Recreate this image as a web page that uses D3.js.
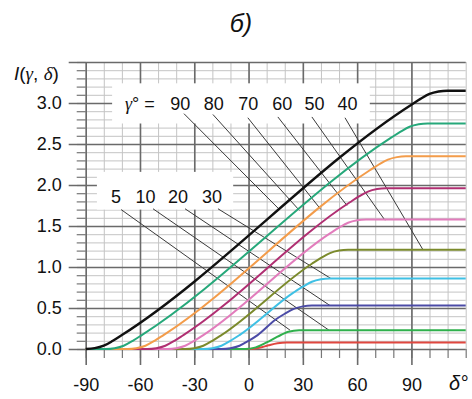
<!DOCTYPE html>
<html>
<head>
<meta charset="utf-8">
<script src="https://cdn.jsdelivr.net/npm/d3@7"></script>
<style>
  html, body { margin: 0; padding: 0; background: #fff; }
  svg { display: block; }
  text { font-family: "Liberation Sans", Arial, sans-serif; fill: #111; }
</style>
</head>
<body>
<svg id="chart" width="472" height="399"></svg>
<script>
// Insolation curves I(γ, δ) for several γ; each curve is a list of [δ°, I] points.
const gammas = [90, 80, 70, 60, 50, 40, 30, 20, 10, 5];
const curveColors = ["#111111", "#26a87a", "#f39c4a", "#b02f72", "#e27cbc",
                     "#7b8a2c", "#3fc0e4", "#4b4ba6", "#2fb04c", "#e0473f"];

const g90 = [[-90,0],[-85,0.01],[-80,0.04],[-75,0.10],[-70,0.17],[90,2.98],[95,3.05],[100,3.11],[105,3.14],[110,3.15],[120,3.15]];
const g80 = [[-90,0],[-79,0],[-74,0.01],[-69,0.04],[-64,0.10],[-59,0.17],[79,2.58],[84,2.65],[89,2.71],[94,2.74],[99,2.75],[120,2.75]];
const g70 = [[-90,0],[-67,0],[-62,0.01],[-57,0.04],[-52,0.10],[-47,0.17],[67,2.18],[72,2.25],[77,2.31],[82,2.34],[87,2.35],[120,2.35]];
const g60 = [[-90,0],[-56,0],[-51,0.01],[-46,0.04],[-41,0.10],[-36,0.17],[56,1.79],[61,1.86],[66,1.92],[71,1.95],[76,1.96],[120,1.96]];
const g50 = [[-90,0],[-45,0],[-40,0.01],[-35,0.04],[-30,0.10],[-25,0.17],[45,1.41],[50,1.48],[55,1.54],[60,1.57],[65,1.58],[120,1.58]];
const g40 = [[-90,0],[-35,0],[-30,0.01],[-25,0.04],[-20,0.10],[-15,0.17],[35,1.04],[40,1.11],[45,1.17],[50,1.20],[55,1.21],[120,1.21]];
const g30 = [[-90,0],[-25,0],[-20,0.01],[-15,0.04],[-10,0.10],[-5,0.17],[25,0.69],[30,0.76],[35,0.82],[40,0.85],[45,0.86],[120,0.86]];
const g20 = [[-90,0],[-15,0],[-10,0.01],[-5,0.04],[0,0.10],[5,0.17],[15,0.36],[20,0.43],[25,0.49],[30,0.52],[35,0.53],[120,0.53]];
const g10 = [[-90,0],[-2,0],[4,0.02],[10,0.08],[16,0.15],[22,0.21],[28,0.23],[120,0.23]];
const g5  = [[-90,0],[0,0],[6,0.015],[11,0.045],[16,0.07],[21,0.08],[120,0.08]];
const curves = [g90, g80, g70, g60, g50, g40, g30, g20, g10, g5];

// Axis ticks
const deltaTicks = [-90, -60, -30, 0, 30, 60, 90];
const deltaMinor = d3.range(-90, 121, 10);
const iTicks = [0, 0.5, 1.0, 1.5, 2.0, 2.5, 3.0];
const iMajor = [0, 0.5, 1.0, 1.5, 2.0, 2.5, 3.0, 3.5];
const iMinor = d3.range(0, 36).map(k => k / 10);

// Curve labels with their leader lines: [δ, I] start and end points
const upperLabels = ["90", "80", "70", "60", "50", "40"];
const upperLabelDelta = [-37.7, -19.2, -0.2, 18.6, 36.5, 54.7];
const upperLeaderFrom = [[-35.7,2.87],[-19.7,2.86],[-0.4,2.82],[16.2,2.83],[35.0,2.83],[53.3,2.82]];
const upperLeaderTo   = [[17.1,1.70],[28.1,1.69],[40.0,1.70],[54.4,1.75],[75.4,1.57],[96.4,1.21]];
const lowerLabels = ["5", "10", "20", "30"];
const lowerLabelDelta = [-73.3, -57.0, -39.0, -20.2];
const lowerLeaderFrom = [[-70.4,1.70],[-52.8,1.71],[-35.1,1.71],[-16.9,1.71]];
const lowerLeaderTo   = [[22.9,0.23],[44.4,0.23],[45.0,0.53],[45.5,0.86]];

const svg = d3.select("#chart");
const x = d3.scaleLinear().domain([-90, 120]).range([85.7, 465.7]);
const y = d3.scaleLinear().domain([0, 3.5]).range([349, 62]);

const plot = svg.append("g");

// minor grid
plot.append("g")
  .attr("transform", `translate(0,${y(0)})`)
  .call(d3.axisBottom(x).tickValues(deltaMinor).tickSize(-(y(0) - y(3.5))).tickFormat(""))
  .call(g => g.select(".domain").remove())
  .call(g => g.selectAll("line").attr("stroke", "#c4c4c4").attr("stroke-width", 1));
plot.append("g")
  .attr("transform", `translate(${x(-90)},0)`)
  .call(d3.axisLeft(y).tickValues(iMinor).tickSize(-(x(120) - x(-90))).tickFormat(""))
  .call(g => g.select(".domain").remove())
  .call(g => g.selectAll("line").attr("stroke", "#c4c4c4").attr("stroke-width", 1));

// minor ticks outside the frame
plot.append("g")
  .attr("transform", `translate(0,${y(0)})`)
  .call(d3.axisBottom(x).tickValues(deltaMinor).tickSize(9).tickFormat(""))
  .call(g => g.select(".domain").remove())
  .call(g => g.selectAll("line").attr("stroke", "#777").attr("stroke-width", 1.2));
plot.append("g")
  .attr("transform", `translate(${x(-90)},0)`)
  .call(d3.axisLeft(y).tickValues(iMinor).tickSize(9).tickFormat(""))
  .call(g => g.select(".domain").remove())
  .call(g => g.selectAll("line").attr("stroke", "#777").attr("stroke-width", 1.2));

// major grid with extended ticks
plot.append("g")
  .attr("transform", `translate(0,${y(0)})`)
  .call(d3.axisBottom(x).tickValues(deltaTicks).tickSize(16).tickFormat(""))
  .call(g => g.select(".domain").remove())
  .call(g => g.selectAll("line").attr("stroke", "#6a6a6a").attr("stroke-width", 1.6)
    .attr("y1", y(3.5) - y(0)));
plot.append("g")
  .attr("transform", `translate(${x(-90)},0)`)
  .call(d3.axisLeft(y).tickValues(iMajor).tickSize(17).tickFormat(""))
  .call(g => g.select(".domain").remove())
  .call(g => g.selectAll("line").attr("stroke", "#6a6a6a").attr("stroke-width", 1.6)
    .attr("x1", x(120) - x(-90)));

// white panels behind the curve labels
const panels = [[-75.4, 67.0, 3.24, 2.75], [-83.8, -8.5, 2.16, 1.70]];
plot.selectAll("rect.panel").data(panels).join("rect")
  .attr("class", "panel")
  .attr("x", d => x(d[0])).attr("width", d => x(d[1]) - x(d[0]))
  .attr("y", d => y(d[2])).attr("height", d => y(d[3]) - y(d[2]))
  .attr("fill", "#fff");

// leader lines
const leaders = upperLeaderFrom.map((p, i) => [p, upperLeaderTo[i]])
  .concat(lowerLeaderFrom.map((p, i) => [p, lowerLeaderTo[i]]));
plot.selectAll("line.leader").data(leaders).join("line")
  .attr("class", "leader")
  .attr("x1", d => x(d[0][0])).attr("y1", d => y(d[0][1]))
  .attr("x2", d => x(d[1][0])).attr("y2", d => y(d[1][1]))
  .attr("stroke", "#3a3a3a").attr("stroke-width", 1);

// curves
const line = d3.line().x(d => x(d[0])).y(d => y(d[1])).curve(d3.curveMonotoneX);
const order = d3.range(curves.length).reverse();
plot.selectAll("path.curve").data(order).join("path")
  .attr("class", "curve")
  .attr("d", i => line(curves[i]))
  .attr("fill", "none")
  .attr("stroke", i => curveColors[i])
  .attr("stroke-width", i => i === 0 ? 2.4 : 2)
  .attr("stroke-linejoin", "round");

// axis labels
const yLab = svg.append("g")
  .attr("transform", `translate(${x(-90) - 24},0)`)
  .call(d3.axisLeft(y).tickValues(iTicks).tickSize(0).tickPadding(0).tickFormat(d3.format(".1f")))
  .call(g => g.select(".domain").remove());
yLab.selectAll("text").attr("font-size", 18).attr("fill", "#111")
  .attr("font-family", "Liberation Sans, Arial, sans-serif");

const xLab = svg.append("g")
  .attr("transform", `translate(0,${y(0) + 29})`)
  .call(d3.axisBottom(x).tickValues(deltaTicks).tickSize(0).tickPadding(0).tickFormat(d3.format("d")))
  .call(g => g.select(".domain").remove());
xLab.selectAll("text").attr("font-size", 18).attr("fill", "#111")
  .attr("font-family", "Liberation Sans, Arial, sans-serif")
  .text(d => String(d));

svg.append("text").attr("x", 449).attr("y", 390).attr("font-size", 20)
  .attr("font-family", "Liberation Serif, serif").attr("font-style", "italic").text("δ°");

// y-axis title
const yt = svg.append("text").attr("x", 14).attr("y", 80).attr("font-size", 19);
yt.append("tspan").attr("font-style", "italic").text("I");
yt.append("tspan").text("(");
yt.append("tspan").attr("font-style", "italic").attr("font-family", "Liberation Serif, serif").text("γ");
yt.append("tspan").text(", ");
yt.append("tspan").attr("font-style", "italic").attr("font-family", "Liberation Serif, serif").text("δ");
yt.append("tspan").text(")");

// panel title
svg.append("text").attr("x", 241).attr("y", 32).attr("text-anchor", "middle")
  .attr("font-size", 25).attr("font-family", "Liberation Serif, serif")
  .attr("font-style", "italic").text("б)");

// curve labels
const gl = svg.append("text").attr("x", 125).attr("y", 110).attr("font-size", 18);
gl.append("tspan").attr("font-style", "italic").attr("font-family", "Liberation Serif, serif").text("γ");
gl.append("tspan").text("° =");
svg.selectAll("text.ulab").data(upperLabels).join("text")
  .attr("class", "ulab")
  .attr("x", (d, i) => x(upperLabelDelta[i])).attr("y", 110)
  .attr("text-anchor", "middle").attr("font-size", 18).text(d => d);
svg.selectAll("text.llab").data(lowerLabels).join("text")
  .attr("class", "llab")
  .attr("x", (d, i) => x(lowerLabelDelta[i])).attr("y", 203)
  .attr("text-anchor", "middle").attr("font-size", 18).text(d => d);
</script>
</body>
</html>
